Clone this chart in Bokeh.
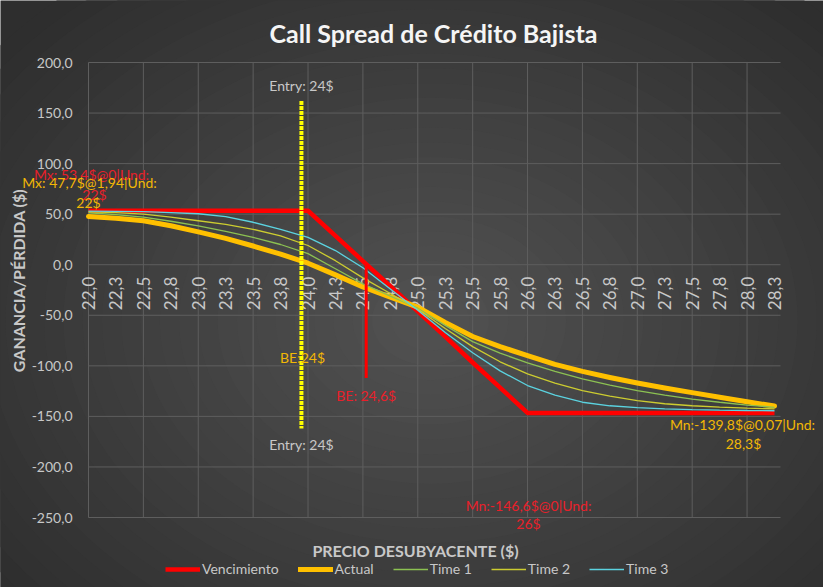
import math
from bokeh.plotting import figure
from bokeh.models import Range1d, Legend, LegendItem
from bokeh.core.properties import value
from bokeh.embed import file_html
from bokeh.resources import INLINE

# ---------------- data ----------------
precio = [22.00, 22.25, 22.50, 22.75, 23.00, 23.25, 23.50, 23.75, 24.00, 24.25,
          24.50, 24.75, 25.00, 25.25, 25.50, 25.75, 26.00, 26.25, 26.50, 26.75,
          27.00, 27.25, 27.50, 27.75, 28.00, 28.25]
x_tick_labels = ["22,0", "22,3", "22,5", "22,8", "23,0", "23,3", "23,5", "23,8", "24,0", "24,3",
                 "24,5", "24,8", "25,0", "25,3", "25,5", "25,8", "26,0", "26,3", "26,5", "26,8",
                 "27,0", "27,3", "27,5", "27,8", "28,0", "28,3"]
y_ticks = [200, 150, 100, 50, 0, -50, -100, -150, -200, -250]
y_tick_labels = ["200,0", "150,0", "100,0", "50,0", "0,0", "-50,0", "-100,0", "-150,0", "-200,0", "-250,0"]
x_grid = [22.0, 22.5, 23.0, 23.5, 24.0, 24.5, 25.0, 25.5, 26.0, 26.5, 27.0, 27.5, 28.0]

vencimiento = [53.4, 53.4, 53.4, 53.4, 53.4, 53.4, 53.4, 53.4, 53.4, 28.5,
               3.6, -21.3, -46.2, -71.1, -96.7, -121.6, -146.6, -146.6, -146.6, -146.6,
               -146.6, -146.6, -146.6, -146.6, -146.6, -146.6]
actual = [47.7, 46.0, 43.5, 38.5, 32.5, 26.0, 18.5, 10.5, 1.5, -10.0,
          -22.0, -32.0, -42.0, -57.0, -71.0, -81.0, -90.0, -98.5, -105.5, -111.5,
          -117.0, -122.0, -126.5, -131.0, -135.5, -139.8]
time1 = [51.4, 49.5, 47.0, 43.0, 38.5, 33.0, 27.0, 20.0, 11.0, -4.0,
         -19.0, -31.0, -43.0, -60.0, -76.0, -87.5, -97.0, -105.5, -113.0, -119.0,
         -124.5, -129.0, -133.0, -136.0, -138.8, -141.0]
time2 = [52.4, 51.5, 50.0, 47.0, 43.5, 40.0, 35.0, 28.5, 19.0, 4.0,
         -13.0, -28.5, -44.0, -63.0, -81.0, -96.0, -108.0, -117.0, -124.5, -130.0,
         -134.5, -137.5, -139.5, -140.8, -141.8, -142.5]
time3 = [53.0, 52.8, 52.5, 51.5, 50.4, 47.5, 42.0, 35.0, 27.0, 14.0,
         -3.0, -24.0, -45.0, -67.0, -87.0, -105.0, -119.5, -129.0, -136.0, -139.5,
         -141.4, -142.5, -143.4, -143.9, -144.2, -144.4]

entry_price = 23.94
entry_y = [162, -162]
be_actual = 23.95
be_venc = 24.53
be_venc_y = [0, -112]

series_names = ["Vencimiento", "Actual", "Time 1", "Time 2", "Time 3"]

title_text = "Call Spread de Crédito Bajista"
x_title = "PRECIO DESUBYACENTE ($)"
y_title = "GANANCIA/PÉRDIDA ($)"
entry_label = "Entry: 24$"
be_actual_label = "BE:24$"
be_venc_label = "BE: 24,6$"
mx_actual_label = ["Mx: 47,7$@1,94|Und:", "22$"]
mn_actual_label = ["Mn:-139,8$@0,07|Und:", "28,3$"]
mx_venc_label = ["Mx: 53,4$@0|Und:", "22$"]
mn_venc_label = ["Mn:-146,6$@0|Und:", "26$"]

# ---------------- layout (pixels) ----------------
W, H = 823, 587
PL, PR, PT, PB = 88, 774, 62, 517          # pixel positions of x 22..28.25 and y 200..-250
XMIN, XMAX, YMIN, YMAX = 22.0, 28.25, -250.0, 200.0
GRID_R = 780
sx = (PR - PL) / (XMAX - XMIN)
sy = (PB - PT) / (YMAX - YMIN)


def X(px):
    return XMIN + (px - PL) / sx


def Y(py):
    return YMAX - (py - PT) / sy


FONT = value("Lato")
TXT = "#c8c8c8"
BG_EDGE = "#2e2e2e"
BG_CENTER = "#505050"

p = figure(width=W, height=H, output_backend="svg", toolbar_location=None,
           x_range=Range1d(X(0), X(W)), y_range=Range1d(Y(H), Y(0)),
           x_axis_location=None, y_axis_location=None, min_border=0,
           background_fill_color=BG_EDGE, border_fill_color=BG_EDGE,
           outline_line_color=None)
p.grid.visible = False

# radial background gradient
def mix(c1, c2, t):
    a = [int(c1[i:i + 2], 16) for i in (1, 3, 5)]
    b = [int(c2[i:i + 2], 16) for i in (1, 3, 5)]
    return "#%02x%02x%02x" % tuple(round(a[k] + (b[k] - a[k]) * t) for k in range(3))

n = 28
ws, hs, cs = [], [], []
for i in range(n):
    t = i / (n - 1)
    r = 1.0 - 0.93 * t
    ws.append(2 * 560 * r)
    hs.append(2 * 430 * r)
    cs.append(mix(BG_EDGE, BG_CENTER, t))
p.ellipse(x=[X(430)] * n, y=[Y(320)] * n, width=ws, height=hs,
          width_units="screen", height_units="screen", fill_color=cs, line_color=None)

# gridlines
GRID_C = "#5e5e5e"
p.segment(x0=x_grid, y0=[YMIN] * len(x_grid), x1=x_grid, y1=[YMAX] * len(x_grid),
          line_color=GRID_C, line_width=1)
p.segment(x0=[XMIN] * len(y_ticks), y0=y_ticks, x1=[X(GRID_R)] * len(y_ticks), y1=y_ticks,
          line_color=GRID_C, line_width=1)

# tick labels
p.text(x=[X(72)] * len(y_ticks), y=y_ticks, text=y_tick_labels, text_align="right",
       text_baseline="middle", text_font=FONT, text_font_size="14px", text_color=TXT)
p.text(x=precio, y=[0] * len(precio), y_offset=12, text=x_tick_labels, angle=math.pi / 2,
       text_align="right", text_baseline="middle", text_font=FONT, text_font_size="17px",
       text_color=TXT)

# series
r_v = p.line(precio, vencimiento, line_color="#ff0000", line_width=4.5, line_join="round")
r_a = p.line(precio, actual, line_color="#ffc000", line_width=5, line_join="round", line_cap="round")
r_1 = p.line(precio, time1, line_color="#8cc152", line_width=1.3)
r_2 = p.line(precio, time2, line_color="#cccc30", line_width=1.3)
r_3 = p.line(precio, time3, line_color="#5bd3e0", line_width=1.3)

# break-even & entry markers
p.line([be_venc, be_venc], be_venc_y, line_color="#ff0000", line_width=3)
p.line([entry_price, entry_price], entry_y, line_color="#ffff00", line_width=4, line_dash="4 1")

# data labels
p.text(x=[entry_price, entry_price], y=entry_y, y_offset=[-15, 16], text=[entry_label, entry_label],
       text_align="center", text_baseline="middle", text_font=FONT, text_font_size="14px",
       text_color=TXT)
RED_T = "#e8202a"
YEL_T = "#f2b705"
p.text(x=[precio[0], precio[0]], y=[max(vencimiento)] * 2, x_offset=[3, 6], y_offset=[-36, -16],
       text=mx_venc_label, text_align="center", text_baseline="middle", text_font=FONT,
       text_font_size="14px", text_color=RED_T)
p.text(x=[26.0, 26.0], y=[min(vencimiento)] * 2, x_offset=[1, 1],
       y_offset=[93, 111], text=mn_venc_label, text_align="center", text_baseline="middle",
       text_font=FONT, text_font_size="14px", text_color=RED_T)
p.text(x=[be_venc], y=[be_venc_y[1]], y_offset=[18], text=[be_venc_label], text_align="center",
       text_baseline="middle", text_font=FONT, text_font_size="14px", text_color=RED_T)
p.text(x=[precio[0], precio[0]], y=[max(actual)] * 2, x_offset=[1, 0], y_offset=[-34, -14],
       text=mx_actual_label, text_align="center", text_baseline="middle", text_font=FONT,
       text_font_size="14px", text_color=YEL_T)
p.text(x=[precio[-1], precio[-1]], y=[min(actual)] * 2, x_offset=[-32, -31], y_offset=[18, 37],
       text=mn_actual_label, text_align="center", text_baseline="middle", text_font=FONT,
       text_font_size="14px", text_color=YEL_T)
p.text(x=[be_actual], y=[0], y_offset=[93], text=[be_actual_label], text_align="center",
       text_baseline="middle", text_font=FONT, text_font_size="14px", text_color=YEL_T)

# titles
p.text(x=[X(433)], y=[Y(32)], text=[title_text], text_align="center", text_baseline="middle",
       text_font=FONT, text_font_style="bold", text_font_size="25px", text_color="#f5f5f5")
p.text(x=[X(415)], y=[Y(550)], text=[x_title], text_align="center", text_baseline="middle",
       text_font=FONT, text_font_style="bold", text_font_size="16px", text_color=TXT)
p.text(x=[X(18)], y=[Y(280)], text=[y_title], angle=math.pi / 2, text_align="center",
       text_baseline="middle", text_font=FONT, text_font_style="bold", text_font_size="16px",
       text_color=TXT)

legend = Legend(items=[LegendItem(label=n_, renderers=[r]) for n_, r in
                       zip(series_names, [r_v, r_a, r_1, r_2, r_3])],
                orientation="horizontal", location=(165, 10), glyph_width=35, glyph_height=16,
                label_standoff=2, spacing=19, padding=0, margin=0, border_line_color=None,
                background_fill_alpha=0, label_text_color=TXT, label_text_font_size="14px",
                label_text_font="Lato")
p.add_layout(legend)

open("out.html", "w").write(file_html(p, INLINE))
